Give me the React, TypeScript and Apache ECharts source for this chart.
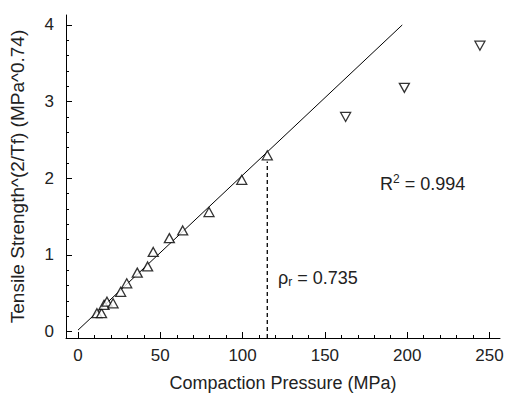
import React, { useEffect, useRef } from "react";
import * as echarts from "echarts";

const pressureUp = [11.5, 14.3, 15.8, 17.6, 21.3, 25.9, 29.6, 36.0, 42.3, 45.7, 55.5, 63.6, 79.6, 99.5, 115.0];
const strengthUp = [0.24, 0.24, 0.35, 0.39, 0.37, 0.52, 0.63, 0.77, 0.85, 1.04, 1.22, 1.32, 1.56, 1.98, 2.3];
const pressureDown = [162.6, 198.3, 244.2];
const strengthDown = [2.8, 3.18, 3.73];
const fitX = [0, 197];
const fitY = [0.02, 4.0];
const relDensityX = [115, 115];
const relDensityY = [-0.083, 2.22];
const xTicks = [0, 50, 100, 150, 200, 250];
const xMinorTicks = [0, 10, 20, 30, 40, 50, 60, 70, 80, 90, 100, 110, 120, 130, 140, 150, 160, 170, 180, 190, 200, 210, 220, 230, 240, 250];
const yTicks = [0, 1, 2, 3, 4];
const yMinorTicks = [0, 0.2, 0.4, 0.6, 0.8, 1, 1.2, 1.4, 1.6, 1.8, 2, 2.2, 2.4, 2.6, 2.8, 3, 3.2, 3.4, 3.6, 3.8, 4];

const X_MIN = -7.3;
const X_MAX = 256.4;
const Y_MIN = -0.083;
const Y_MAX = 4.13;

const FONT = "Liberation Sans, Arial, sans-serif";
const TXT = "#222";

export default function App() {
  const ref = useRef<HTMLDivElement>(null);
  useEffect(() => {
    if (!ref.current) return;
    const chart = echarts.init(ref.current, undefined, { renderer: "svg" });
    const zip = (a: number[], b: number[]) => a.map((v, i) => [v, b[i]]);
    const baseX = {
      type: "value",
      min: X_MIN,
      max: X_MAX,
      splitLine: { show: false },
    };
    const baseY = {
      type: "value",
      min: Y_MIN,
      max: Y_MAX,
      splitLine: { show: false },
    };
    chart.setOption({
      animation: false,
      backgroundColor: "#fff",
      grid: { left: 66, right: 6, top: 15, bottom: 60, containLabel: false, outerBoundsMode: "none" },
      xAxis: [
        {
          ...baseX,
          name: "Compaction Pressure (MPa)",
          nameLocation: "middle",
          nameGap: 36,
          nameTextStyle: { fontFamily: FONT, fontSize: 18, color: TXT },
          axisLine: { show: true, onZero: false, lineStyle: { color: "#000", width: 1 } },
          axisTick: { show: true, inside: true, length: 6, customValues: xTicks, lineStyle: { color: "#000" } },
          axisLabel: { show: true, customValues: xTicks, margin: 9, fontFamily: FONT, fontSize: 17, color: TXT },
        },
        {
          ...baseX,
          position: "bottom",
          axisLine: { show: false, onZero: false },
          axisTick: { show: true, inside: true, length: 3, customValues: xMinorTicks, lineStyle: { color: "#000" } },
          axisLabel: { show: false },
        },
      ],
      yAxis: [
        {
          ...baseY,
          name: "Tensile Strength^(2/Tf) (MPa^0.74)",
          nameLocation: "middle",
          nameGap: 39,
          nameTextStyle: { fontFamily: FONT, fontSize: 19, color: TXT },
          axisLine: { show: true, onZero: false, lineStyle: { color: "#000", width: 1 } },
          axisTick: { show: true, inside: true, length: 6, customValues: yTicks, lineStyle: { color: "#000" } },
          axisLabel: { show: true, customValues: yTicks, margin: 12, fontFamily: FONT, fontSize: 17, color: TXT },
        },
        {
          ...baseY,
          position: "left",
          axisLine: { show: false, onZero: false },
          axisTick: { show: true, inside: true, length: 3, customValues: yMinorTicks, lineStyle: { color: "#000" } },
          axisLabel: { show: false },
        },
      ],
      series: [
        {
          type: "line",
          data: zip(fitX, fitY),
          symbol: "none",
          lineStyle: { color: "#000", width: 1 },
          z: 2,
        },
        {
          type: "line",
          data: zip(relDensityX, relDensityY),
          symbol: "none",
          lineStyle: { color: "#000", width: 1.3, type: [4, 3] },
          z: 2,
        },
        {
          type: "scatter",
          data: zip(pressureUp, strengthUp),
          symbol: "triangle",
          symbolSize: [10, 9],
          itemStyle: { color: "#fff", borderColor: "#000", borderWidth: 1.3 },
          z: 3,
        },
        {
          type: "scatter",
          data: zip(pressureDown, strengthDown),
          symbol: "path://M0,0 L10,0 L5,9 Z",
          symbolSize: [10, 9],
          itemStyle: { color: "#fff", borderColor: "#000", borderWidth: 1.3 },
          z: 3,
        },
      ],
      graphic: [
        {
          type: "text",
          left: 380,
          top: 173,
          style: {
            text: "{a|R}{s|2}{a| = 0.994}",
            rich: {
              a: { fontFamily: FONT, fontSize: 18, fill: TXT, verticalAlign: "bottom", lineHeight: 20 },
              s: { fontFamily: FONT, fontSize: 12, fill: TXT, verticalAlign: "top", lineHeight: 20, padding: [0, 0, 6, 0] },
            },
          },
        },
        {
          type: "text",
          left: 278,
          top: 268,
          style: {
            text: "{a|ρ}{s|r}{a| = 0.735}",
            rich: {
              a: { fontFamily: FONT, fontSize: 18, fill: TXT, lineHeight: 20 },
              s: { fontFamily: FONT, fontSize: 12, fill: TXT, lineHeight: 20, padding: [8, 0, 0, 0] },
            },
          },
        },
      ],
    });
    return () => chart.dispose();
  }, []);
  return <div ref={ref} style={{ width: 506, height: 398, position: "absolute", left: 0, top: 0 }} />;
}
